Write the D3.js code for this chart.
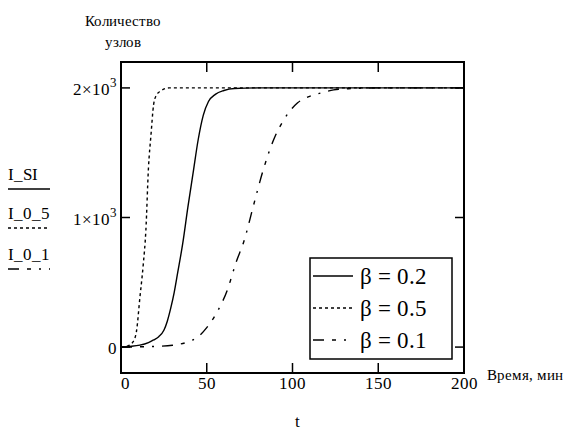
<!DOCTYPE html>
<html>
<head>
<meta charset="utf-8">
<script src="https://cdn.jsdelivr.net/npm/d3@7"></script>
<style>
  @font-face { font-family: "ChartSerif"; src: local("Liberation Serif"), local("LiberationSerif"), local("Times New Roman"), local("Tinos"); }
  body { margin: 0; }
  text { font-family: "ChartSerif", "Liberation Serif", "Times New Roman", Tinos; }
</style>
</head>
<body>
<svg id="chart" width="572" height="430"></svg>
<script>
// values
const tSI  = [0, 5, 11, 16, 19, 22, 25, 27, 29, 31, 33, 36, 39, 42, 45, 48, 51, 55, 60, 66, 80, 200];
const vSI  = [0, 5, 15, 35, 55, 80, 130, 200, 300, 420, 570, 800, 1080, 1340, 1600, 1790, 1895, 1950, 1980, 1995, 2000, 2000];

const t05  = [0, 4, 7, 9, 11, 13, 14.5, 16, 17.5, 19, 20.5, 23, 28, 200];
const v05  = [0, 10, 40, 120, 380, 640, 900, 1380, 1640, 1870, 1940, 1975, 2000, 2000];

const t01  = [0, 10, 20, 30, 40, 45, 50, 56, 62, 67, 72, 77, 83, 89, 95, 103, 110, 117, 124, 134, 150, 200];
const v01  = [0, 2, 5, 14, 45, 80, 150, 270, 440, 650, 830, 1080, 1370, 1600, 1755, 1885, 1935, 1962, 1985, 1995, 2000, 2000];

const series = [
  { name: "I_SI",  label: "\u03b2 = 0.2", t: tSI, v: vSI, dash: null },
  { name: "I_0_5", label: "\u03b2 = 0.5", t: t05, v: v05, dash: "3,3" },
  { name: "I_0_1", label: "\u03b2 = 0.1", t: t01, v: v01, dash: "11,8,4,8,2,8" }
];
const xTicks = [0, 50, 100, 150, 200];
const yTicks = [0, 1000, 2000];
const yTickLabels = [["0", null], ["1\u00d710", "3"], ["2\u00d710", "3"]];

const svg = d3.select("#chart");
const x = d3.scaleLinear().domain([0, 200]).range([121, 464]);
const y = d3.scaleLinear().domain([-200, 2200]).range([373, 62]);

function label(px, py, size, str, anchor) {
  return svg.append("text")
    .attr("x", px).attr("y", py)
    .attr("font-size", size)
    .attr("text-anchor", anchor || "start")
    .text(str);
}

const line = d3.line()
  .x(d => x(d[0]))
  .y(d => y(d[1]))
  .curve(d3.curveMonotoneX);

// curves
series.forEach(s => {
  svg.append("path")
    .datum(d3.zip(s.t, s.v))
    .attr("fill", "none")
    .attr("stroke", "#000")
    .attr("stroke-width", 1.4)
    .attr("stroke-dasharray", s.dash)
    .attr("d", line);
});

// frame
svg.append("rect")
  .attr("x", x(0)).attr("y", y(2200))
  .attr("width", x(200) - x(0)).attr("height", y(-200) - y(2200))
  .attr("fill", "none").attr("stroke", "#000").attr("stroke-width", 2);

// inward ticks on all four sides
xTicks.slice(1, -1).forEach(t => {
  svg.append("line").attr("x1", x(t)).attr("x2", x(t)).attr("y1", y(-200)).attr("y2", y(-200) - 10)
    .attr("stroke", "#000").attr("stroke-width", 1.5);
  svg.append("line").attr("x1", x(t)).attr("x2", x(t)).attr("y1", y(2200)).attr("y2", y(2200) + 10)
    .attr("stroke", "#000").attr("stroke-width", 1.5);
});
yTicks.forEach(v => {
  svg.append("line").attr("x1", x(0)).attr("x2", x(0) + 9).attr("y1", y(v)).attr("y2", y(v))
    .attr("stroke", "#000").attr("stroke-width", 1.5);
  svg.append("line").attr("x1", x(200)).attr("x2", x(200) - 9).attr("y1", y(v)).attr("y2", y(v))
    .attr("stroke", "#000").attr("stroke-width", 1.5);
});

// x tick labels
xTicks.forEach(d => label(x(d) + (d === 0 ? 4 : 0), 389, 17, d, "middle"));

// y tick labels
yTicks.forEach((v, i) => {
  const [base, sup] = yTickLabels[i];
  const t = label(117, y(v) + 7, 17, null, "end");
  t.append("tspan").text(base);
  if (sup) t.append("tspan").attr("dy", -8).attr("font-size", 13).text(sup);
});

// axis titles
label(123, 26, 15, "Количество", "middle");
label(123, 47, 15, "узлов", "middle");
label(487, 380, 15, "Время, мин");
label(297, 427, 17, "t", "middle");

// left-side trace names
const leftY = [180, 219, 260];
series.forEach((s, i) => {
  label(8, leftY[i], 17, s.name);
  svg.append("line").attr("x1", 8).attr("x2", 50)
    .attr("y1", leftY[i] + 9).attr("y2", leftY[i] + 9)
    .attr("stroke", "#000").attr("stroke-width", 1.5)
    .attr("stroke-dasharray", s.dash);
});

// legend box
svg.append("rect").attr("x", 310).attr("y", 258).attr("width", 142).attr("height", 101)
  .attr("fill", "#fff").attr("stroke", "#000").attr("stroke-width", 1.5);
series.forEach((s, i) => {
  const yy = 276 + i * 32;
  svg.append("line").attr("x1", 313).attr("x2", 353).attr("y1", yy).attr("y2", yy)
    .attr("stroke", "#000").attr("stroke-width", 1.4)
    .attr("stroke-dasharray", s.dash);
  label(360, yy + 8, 23, s.label);
});

// make sure the serif face is in use once it has been loaded
if (document.fonts && document.fonts.load) {
  Promise.all([15, 17, 23].map(sz => document.fonts.load(`${sz}px ChartSerif`, "Кβ0"))).then(() => {
    svg.selectAll("text").style("font-family", "ChartSerif, \"Liberation Serif\"");
  });
}
</script>
</body>
</html>
